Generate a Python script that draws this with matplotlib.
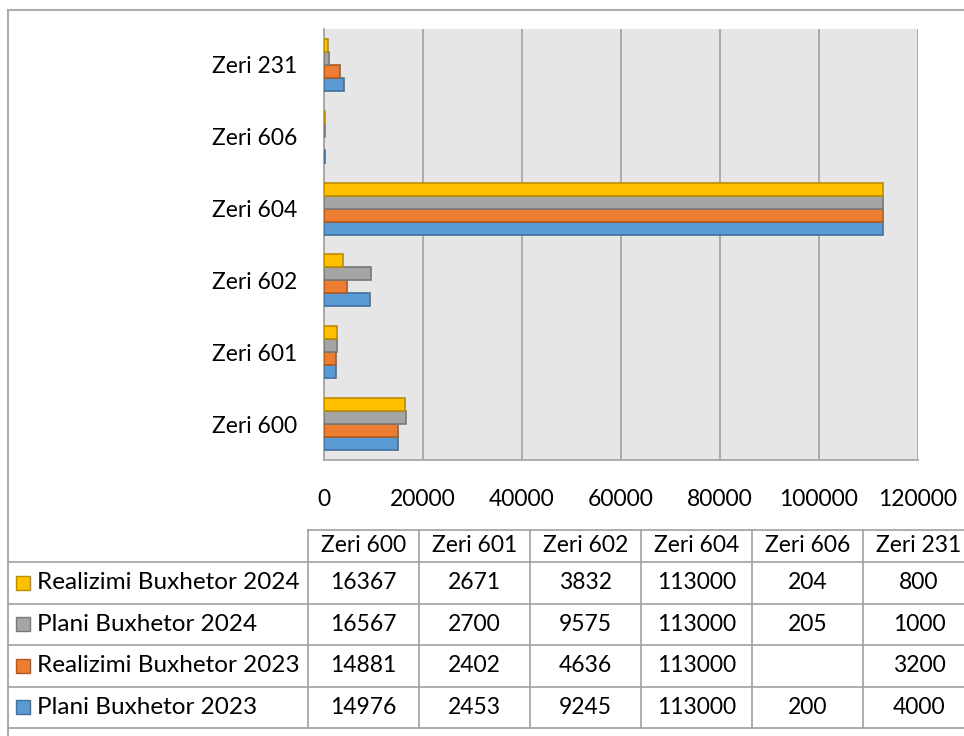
import numpy as np
import matplotlib
matplotlib.use("Agg")
import matplotlib.pyplot as plt
from matplotlib.patches import Rectangle

plt.rcParams['font.family'] = ['Lato', 'DejaVu Sans']

categories = ['Zeri 600', 'Zeri 601', 'Zeri 602', 'Zeri 604', 'Zeri 606', 'Zeri 231']
series_names = ['Plani Buxhetor 2023', 'Realizimi Buxhetor 2023',
                'Plani Buxhetor 2024', 'Realizimi Buxhetor 2024']
plani_2023 = [14976, 2453, 9245, 113000, 200, 4000]
realizimi_2023 = [14881, 2402, 4636, 113000, np.nan, 3200]
plani_2024 = [16567, 2700, 9575, 113000, 205, 1000]
realizimi_2024 = [16367, 2671, 3832, 113000, 204, 800]
xticks = [0, 20000, 40000, 60000, 80000, 100000, 120000]

series = [plani_2023, realizimi_2023, plani_2024, realizimi_2024]
fills = ['#5B9BD5', '#ED7D31', '#A5A5A5', '#FFC000']
edges = ['#41719C', '#AE5A21', '#787878', '#BC8C00']

W, H = 964, 736
fig = plt.figure(figsize=(W / 100, H / 100), dpi=100)


def px(x0, y0, x1, y1):
    return [x0 / W, 1 - y1 / H, (x1 - x0) / W, (y1 - y0) / H]


# bar chart
ax = fig.add_axes(px(324, 29, 918, 460))
ax.set_facecolor('#E6E6E6')
bh = 0.181
y = np.arange(len(categories))
for k, (vals, fc, ec) in enumerate(zip(series, fills, edges)):
    ax.barh(y + (k - 1.5) * bh, vals, height=bh, color=fc, edgecolor=ec,
            linewidth=1.2, label=series_names[k], zorder=3)

ax.set_xlim(0, 120000)
ax.set_ylim(-0.5, len(categories) - 0.5)
ax.set_xticks(xticks)
ax.set_xticklabels([str(v) for v in xticks])
ax.set_yticks(y)
ax.set_yticklabels(categories)
ax.tick_params(axis='both', length=0, labelsize=16.5, colors='black')
ax.tick_params(axis='x', pad=21)
ax.tick_params(axis='y', pad=19)
ax.grid(axis='x', color='#A6A6A6', linewidth=1.3, zorder=1)
for s in ['top', 'right']:
    ax.spines[s].set_visible(False)
for s in ['left', 'bottom']:
    ax.spines[s].set_color('#A6A6A6')
    ax.spines[s].set_linewidth(1.3)

# data table underneath, drawn in pixel coordinates
tb = fig.add_axes([0, 0, 1, 1], facecolor='none')
tb.set_xlim(0, W)
tb.set_ylim(H, 0)
tb.axis('off')

line_c = '#A0A0A0'
# outer frame of the chart area
tb.plot([8, 8], [10, H], color='#ADADAD', lw=1.5)
tb.plot([8, W], [10, 10], color='#ADADAD', lw=1.5)

col_edges = [308, 419, 530, 641, 752, 863, 975]
row_edges = [530, 562, 603.5, 645, 686.5, 728]
tb.plot([308, W], [row_edges[0]] * 2, color=line_c, lw=1.2)
for yy in row_edges[1:]:
    tb.plot([8, W], [yy, yy], color=line_c, lw=1.2)
for xx in col_edges[:-1]:
    tb.plot([xx, xx], [row_edges[0], row_edges[-1]], color=line_c, lw=1.2)

for j, cat in enumerate(categories):
    cx = (col_edges[j] + col_edges[j + 1]) / 2
    tb.text(cx, (row_edges[0] + row_edges[1]) / 2, cat, ha='center',
            va='center', fontsize=16.5)

# table rows go top-down in reverse series order
for r, k in enumerate(range(len(series) - 1, -1, -1)):
    cy = (row_edges[r + 1] + row_edges[r + 2]) / 2
    tb.add_patch(Rectangle((16, cy - 7), 14, 14, facecolor=fills[k],
                           edgecolor=edges[k], lw=1))
    tb.text(37, cy, series_names[k], ha='left', va='center', fontsize=17.5)
    for j, v in enumerate(series[k]):
        if np.isnan(v):
            continue
        cx = (col_edges[j] + col_edges[j + 1]) / 2
        tb.text(cx, cy, str(int(v)), ha='center', va='center', fontsize=16.5)

fig.savefig('out.png', dpi=100)
